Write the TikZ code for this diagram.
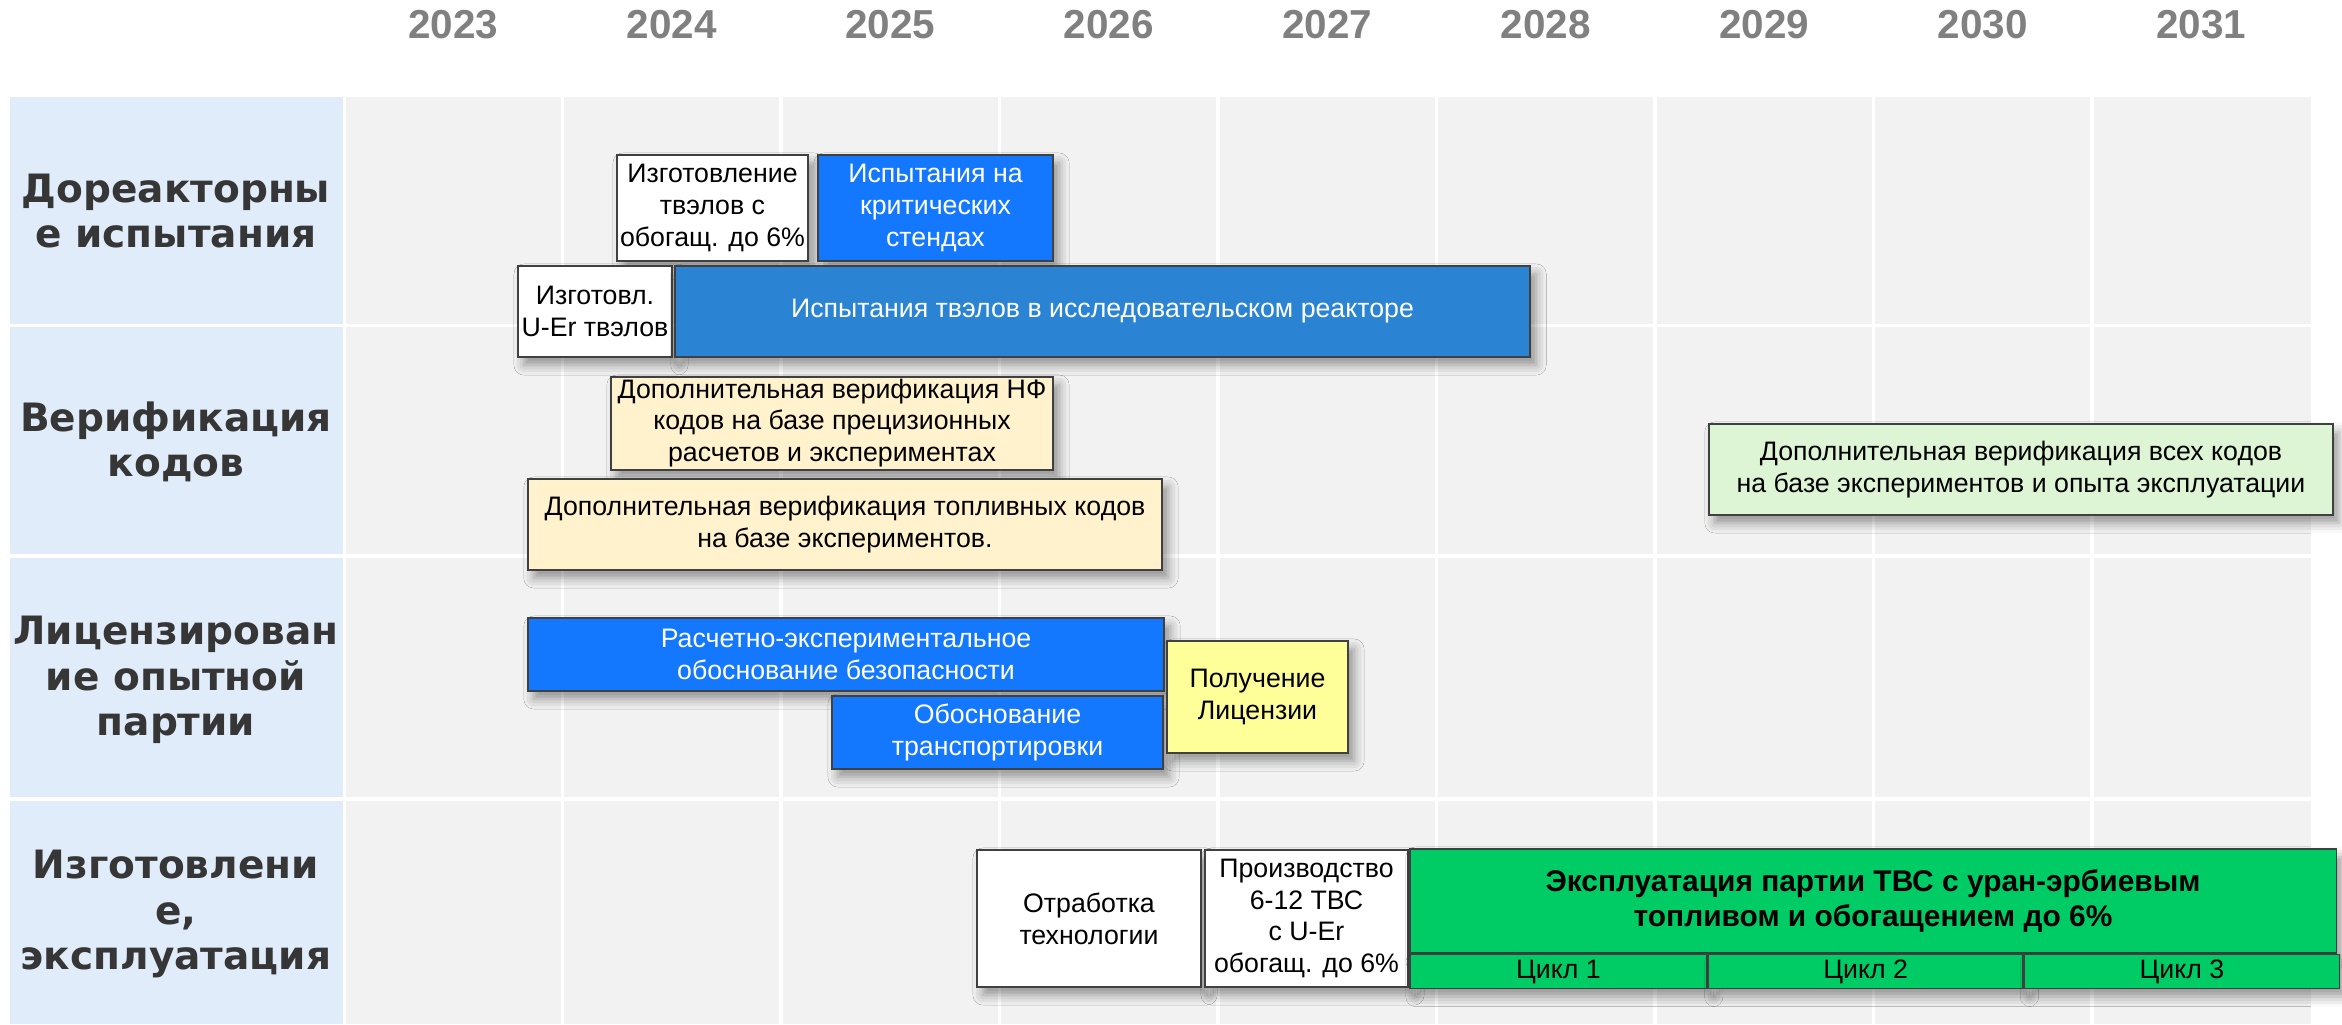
\documentclass[tikz,border=0pt]{standalone}
\usepackage{fontspec}
\setmainfont{Liberation Sans}
\newfontfamily\rowfont{DejaVu Sans}
\usetikzlibrary{positioning,shadows.blur}
\definecolor{gridgray}{HTML}{F2F2F2}
\definecolor{rowblue}{HTML}{E0ECF9}
\definecolor{vividblue}{HTML}{1478FF}
\definecolor{midblue}{HTML}{2A84D3}
\definecolor{creambox}{HTML}{FFF2CC}
\definecolor{palegreen}{HTML}{DDF5D4}
\definecolor{lemon}{HTML}{FFFF99}
\definecolor{opgreen}{HTML}{00CC66}
\definecolor{yeargray}{HTML}{808080}
\definecolor{rowtext}{HTML}{363636}

\begin{document}
\begin{tikzpicture}[x=0.01cm,y=-0.01cm,
  task/.style={draw=black!75,line width=0.45pt,inner sep=0pt,align=center,
    font=\fontsize{7.6}{9}\selectfont,
    blur shadow={shadow xshift=0.06cm,shadow yshift=-0.08cm,shadow blur radius=0.1cm}},
  rowlbl/.style={align=center,text=rowtext,font=\rowfont\bfseries\fontsize{11.1}{13}\selectfont},
  yearlbl/.style={text=yeargray,font=\bfseries\fontsize{11.5}{13}\selectfont}]
\useasboundingbox (0,0) rectangle (2342,1024);
\fill[rowblue] (10,97) rectangle (342.5,1024);
\fill[gridgray] (346,97) rectangle (2311,1024);
\foreach \k in {1,...,8}
  \draw[white,line width=0.034cm] ({344+218.5*\k},97) -- ({344+218.5*\k},1024);
\foreach \r in {325.3,556,799}
  \draw[white,line width=0.034cm] (10,\r) -- (2311,\r);
\foreach \yr [count=\i from 0] in {2023,...,2031}
  \node[yearlbl] (yr\yr) at ({344+218.5*(\i+0.5)},25) {\yr};

\node[rowlbl] (lblpre) at (176,211) {Дореакторны\\е испытания};
\node[rowlbl] (lblver) at (176,442) {Верификация\\кодов};
\node[rowlbl] (lbllic) at (176,680) {Лицензирован\\ие опытной\\партии};
\node[rowlbl] (lblfab) at (176,914) {Изготовлени\\е,\\эксплуатация};

\node[task,fill=white,minimum width=1.91cm,minimum height=1.06cm] (fabsix) at (712.5,208) {Изготовление\\твэлов с\\обогащ. до 6\%};
\node[task,fill=vividblue,text=white,minimum width=2.35cm,minimum height=1.06cm] (critst) at (935.5,208) {Испытания на\\критических\\стендах};
\node[task,fill=white,minimum width=1.54cm,minimum height=0.91cm] (fabuer) at (595,311.5) {Изготовл.\\U-Er твэлов};
\node[task,fill=midblue,text=white,minimum width=8.55cm,minimum height=0.91cm] (irtest) at (1102.5,311.5) {Испытания твэлов в исследовательском реакторе};

\node[task,fill=creambox,minimum width=4.42cm,minimum height=0.93cm] (verhf) at (832,423.5) {Дополнительная верификация НФ\\кодов на базе прецизионных\\расчетов и экспериментах\rule[-2pt]{0pt}{0pt}};
\node[task,fill=creambox,minimum width=6.34cm,minimum height=0.91cm] (verfuel) at (845,524.5) {Дополнительная верификация топливных кодов\\на базе экспериментов.};
\node[task,fill=palegreen,minimum width=6.24cm,minimum height=0.91cm] (verall) at (2021,469.5) {Дополнительная верификация всех кодов\\на базе экспериментов и опыта эксплуатации};

\node[task,fill=vividblue,text=white,minimum width=6.36cm,minimum height=0.73cm] (safety) at (846,654.5) {Расчетно-экспериментальное\\обоснование безопасности};
\node[task,fill=vividblue,text=white,minimum width=3.31cm,minimum height=0.73cm] (transp) at (997.5,732.5) {Обоснование\\транспортировки};
\node[task,fill=lemon,minimum width=1.81cm,minimum height=1.12cm] (license) at (1257.5,697) {Получение\\Лицензии};

\node[task,fill=white,minimum width=2.24cm,minimum height=1.37cm] (techdev) at (1089,918.5) {Отработка\\технологии};
\node[task,fill=white,minimum width=2.03cm,minimum height=1.37cm] (produce) at (1306.5,918.5) {Производство\\6-12 ТВС\\с U-Er\\обогащ. до 6\%};
\node[task,fill=opgreen,minimum width=9.26cm,minimum height=1.04cm,font=\bfseries\fontsize{8.5}{10.2}\selectfont] (operate) at (1873,901) {Эксплуатация партии ТВС с уран-эрбиевым\\топливом и обогащением до 6\%};
\node[task,fill=opgreen,minimum width=2.97cm,minimum height=0.34cm,anchor=north west] (cyc1) at (operate.south west) {Цикл 1};
\node[task,fill=opgreen,minimum width=3.14cm,minimum height=0.34cm,right=0pt of cyc1] (cyc2) {Цикл 2};
\node[task,fill=opgreen,minimum width=3.15cm,minimum height=0.34cm,right=0pt of cyc2] (cyc3) {Цикл 3};
\end{tikzpicture}
\end{document}
